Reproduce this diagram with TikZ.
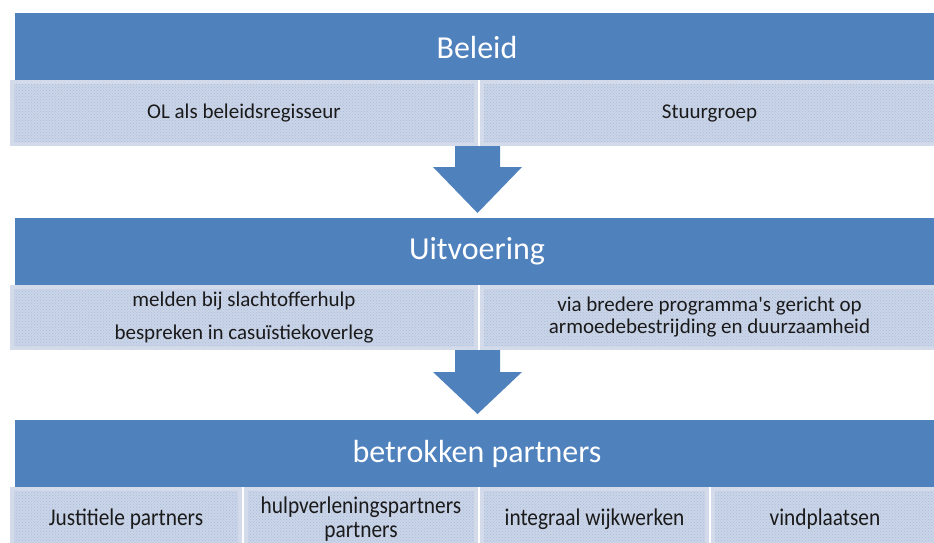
\documentclass[tikz,border=0pt]{standalone}
\usepackage{fontspec}
\setmainfont{Carlito}
\usetikzlibrary{patterns}
\definecolor{hblue}{HTML}{4F81BD}
\definecolor{subedge}{HTML}{D3DAE9}
\definecolor{subfill}{HTML}{CBD5E8}
\definecolor{subdot}{HTML}{A9BCDD}
\definecolor{txt}{HTML}{1A1A1A}
\tikzset{
  hdr/.style={fill=hblue, inner sep=0pt},
  hdrtext/.style={text=white, inner sep=0pt, font=\fontsize{32}{38}\selectfont},
  subbox/.style={fill=subedge, text=txt, inner sep=0pt, align=center, font=\fontsize{21}{25}\selectfont,
    path picture={\fill[subfill] ([xshift=4pt,yshift=-4pt]path picture bounding box.north west) rectangle ([xshift=-4pt,yshift=4pt]path picture bounding box.south east);
      \fill[pattern=crosshatch dots, pattern color=subdot] ([xshift=4pt,yshift=-4pt]path picture bounding box.north west) rectangle ([xshift=-4pt,yshift=4pt]path picture bounding box.south east);}},
  bottombox/.style={subbox, font=\fontsize{24}{24}\selectfont},
  blockarrow/.style={fill=hblue}
}
\newcommand{\cond}[1]{\scalebox{0.89}[1]{#1}}
\begin{document}
\begin{tikzpicture}[x=1pt,y=-1pt]
\useasboundingbox (0,0) rectangle (934,542);
% Beleid
\node[hdr, minimum width=924pt, minimum height=67pt] (h1) at (477,46.5) {};
\node[hdrtext] (t1) at (477,47) {Beleid};
\node[subbox, minimum width=468pt, minimum height=66pt] (s11) at (244,113) {OL als beleidsregisseur};
\node[subbox, minimum width=459pt, minimum height=66pt] (s12) at (709.5,113) {Stuurgroep};
% arrow 1
\fill[blockarrow] (455,146) -- (500,146) -- (500,167) -- (522,167) -- (477.5,213) -- (433,167) -- (455,167) -- cycle;
% Uitvoering
\node[hdr, minimum width=924pt, minimum height=67pt] (h2) at (477,251.5) {};
\node[hdrtext] (t2) at (477,251) {Uitvoering};
\node[subbox, minimum width=468pt, minimum height=65pt] (s21) at (244,317.5) {melden bij slachtofferhulp\\[8pt]bespreken in casuïstiekoverleg};
\node[subbox, minimum width=459pt, minimum height=65pt] (s22) at (709.5,317.5) {via bredere programma\textquotesingle s gericht op\\[-3pt]armoedebestrijding en duurzaamheid};
% arrow 2
\fill[blockarrow] (455,350) -- (500,350) -- (500,372) -- (522,372) -- (477.5,414) -- (433,372) -- (455,372) -- cycle;
% betrokken partners
\node[hdr, minimum width=924pt, minimum height=67pt] (h3) at (477,453.5) {};
\node[hdrtext] (t3) at (477,454) {betrokken partners};
\node[bottombox, minimum width=232pt, minimum height=65pt] (s31) at (126,519.5) {\cond{Justitiele partners}};
\node[bottombox, minimum width=234pt, minimum height=65pt] (s32) at (361,519.5) {\cond{hulpverleningspartners}\\\cond{partners}};
\node[bottombox, minimum width=229pt, minimum height=65pt] (s33) at (594.5,519.5) {\cond{integraal wijkwerken}};
\node[bottombox, minimum width=228pt, minimum height=65pt] (s34) at (825,519.5) {\cond{vindplaatsen}};
\end{tikzpicture}
\end{document}
